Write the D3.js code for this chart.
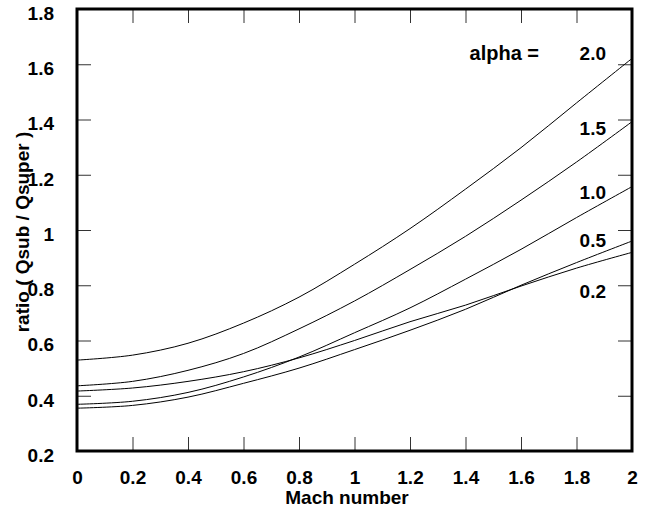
<!DOCTYPE html>
<html>
<head>
<meta charset="utf-8">
<script src="https://cdn.jsdelivr.net/npm/d3@7"></script>
<style>
  body { margin: 0; background: #fff; }
  text { font-family: "Liberation Sans", Arial, sans-serif; font-weight: bold; }
</style>
</head>
<body>
<div id="chart"></div>
<script>
const mach = [0, 0.2, 0.4, 0.6, 0.8, 1.0, 1.2, 1.4, 1.6, 1.8, 2.0];

// ratio Qsub / Qsuper for each alpha
const alpha20 = [0.529, 0.547, 0.590, 0.663, 0.757, 0.876, 1.005, 1.148, 1.298, 1.460, 1.621];
const alpha15 = [0.436, 0.452, 0.492, 0.553, 0.642, 0.743, 0.857, 0.977, 1.108, 1.246, 1.392];
const alpha10 = [0.369, 0.380, 0.412, 0.468, 0.540, 0.628, 0.718, 0.822, 0.930, 1.045, 1.157];
const alpha05 = [0.355, 0.365, 0.395, 0.445, 0.500, 0.567, 0.637, 0.713, 0.800, 0.882, 0.960];
const alpha02 = [0.417, 0.428, 0.452, 0.487, 0.537, 0.600, 0.668, 0.728, 0.797, 0.862, 0.919];

const seriesNames = ["2.0", "1.5", "1.0", "0.5", "0.2"];
const seriesValues = [alpha20, alpha15, alpha10, alpha05, alpha02];

const xTicks = [0, 0.2, 0.4, 0.6, 0.8, 1, 1.2, 1.4, 1.6, 1.8, 2];
const yTicks = [0.2, 0.4, 0.6, 0.8, 1, 1.2, 1.4, 1.6, 1.8];

const W = 665, H = 516;
const margin = {top: 9, right: 33, bottom: 65, left: 77},
    width = W - margin.left - margin.right,
    height = H - margin.top - margin.bottom;

const svg = d3.select("#chart")
    .append("svg")
    .attr("width", W)
    .attr("height", H);

const g = svg.append("g")
    .attr("transform", `translate(${margin.left}, ${margin.top})`);

const x = d3.scaleLinear().domain([0, 2]).range([0, width]);
const y = d3.scaleLinear().domain([0.2, 1.8]).range([height, 0]);

const fmt = d => d3.format("~g")(d);
const tickLen = 14;

// bottom axis with labels, ticks pointing inward
const xAxis = g.append("g")
    .attr("transform", `translate(0, ${height})`)
    .call(d3.axisBottom(x).tickValues(xTicks).tickFormat(fmt).tickSizeInner(-tickLen).tickSizeOuter(0).tickPadding(tickLen + 6));
// top axis, ticks only
const xAxisTop = g.append("g")
    .call(d3.axisTop(x).tickValues(xTicks).tickFormat("").tickSizeInner(-tickLen).tickSizeOuter(0));
// left axis with labels
const yAxis = g.append("g")
    .call(d3.axisLeft(y).tickValues(yTicks).tickFormat(fmt).tickSizeInner(-tickLen).tickSizeOuter(0).tickPadding(tickLen + 9));
// right axis, ticks only
const yAxisRight = g.append("g")
    .attr("transform", `translate(${width}, 0)`)
    .call(d3.axisRight(y).tickValues(yTicks).tickFormat("").tickSizeInner(-tickLen).tickSizeOuter(0));

[xAxis, xAxisTop, yAxis, yAxisRight].forEach(a => {
    a.select(".domain").remove();
    a.selectAll(".tick line").attr("stroke", "#333").attr("stroke-width", 1);
    a.selectAll("text")
        .attr("font-size", 19)
        .attr("font-weight", "bold")
        .attr("font-family", "Liberation Sans, Arial, sans-serif")
        .attr("fill", "#000");
});
yAxis.selectAll("text").attr("dy", "0.55em");

// frame
g.append("rect")
    .attr("x", 0)
    .attr("y", 0)
    .attr("width", width)
    .attr("height", height)
    .attr("fill", "none")
    .attr("stroke", "#000")
    .attr("stroke-width", 3);

// curves
const line = d3.line()
    .x((d, i) => x(mach[i]))
    .y(d => y(d))
    .curve(d3.curveCatmullRom);

g.selectAll("path.curve")
    .data(seriesValues)
    .enter()
    .append("path")
    .attr("class", "curve")
    .attr("fill", "none")
    .attr("stroke", "#000")
    .attr("stroke-width", 1)
    .attr("d", line);

// labels for alpha
const labelY = [60, 135, 199, 247, 298];
g.append("text")
    .attr("x", 539 - margin.left)
    .attr("y", 60 - margin.top)
    .attr("text-anchor", "end")
    .attr("font-size", 20)
    .text("alpha =");

g.selectAll("text.alab")
    .data(seriesNames)
    .enter()
    .append("text")
    .attr("class", "alab")
    .attr("x", 606 - margin.left)
    .attr("y", (d, i) => labelY[i] - margin.top)
    .attr("text-anchor", "end")
    .attr("font-size", 19)
    .text(d => d);

// axis titles
svg.append("text")
    .attr("x", 347)
    .attr("y", 504)
    .attr("text-anchor", "middle")
    .attr("font-size", 19)
    .text("Mach number");

svg.append("text")
    .attr("transform", `translate(29, 232) rotate(-90)`)
    .attr("text-anchor", "middle")
    .attr("font-size", 19)
    .text("ratio ( Qsub / Qsuper )");
</script>
</body>
</html>
